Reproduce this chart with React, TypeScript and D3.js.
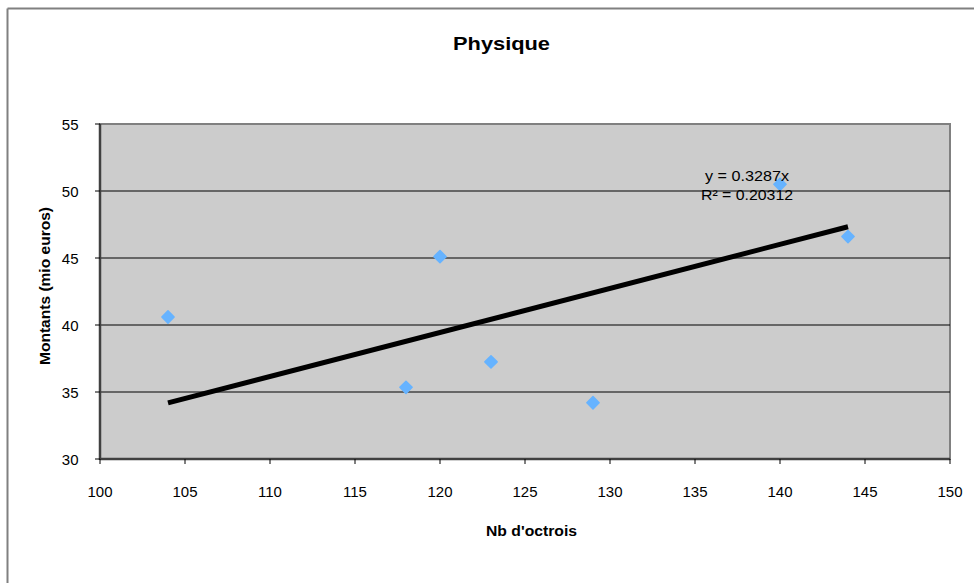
import React from "react";
import * as d3 from "d3";

const xValues = [104, 118, 120, 123, 129, 140, 144];
const yValues = [40.6, 35.35, 45.1, 37.25, 34.2, 50.5, 46.6];
const slope = 0.3287;
const xTicks = [100, 105, 110, 115, 120, 125, 130, 135, 140, 145, 150];
const yTicks = [30, 35, 40, 45, 50, 55];
const title = "Physique";
const xTitle = "Nb d'octrois";
const yTitle = "Montants (mio euros)";
const eqLabel = "y = 0.3287x";
const r2Label = "R² = 0.20312";

export default function App() {
  const W = 974, H = 583;
  const left = 100, right = 950, top = 124, bottom = 459;
  const x = d3.scaleLinear().domain([100, 150]).range([left, right]);
  const y = d3.scaleLinear().domain([30, 55]).range([bottom, top]);
  const xMin = d3.min(xValues)!, xMax = d3.max(xValues)!;
  const line = d3.line<number>().x((d) => x(d)).y((d) => y(slope * d));
  const diamond = d3.symbol().type(d3.symbolDiamond2).size(96)()!;
  const font = "Arial, 'Liberation Sans', Helvetica, sans-serif";
  return (
    <svg width={W} height={H} style={{ position: "absolute", left: 0, top: 0 }} fontFamily={font}>
      <rect x={0} y={0} width={W} height={H} fill="#fff" />
      <line x1={7.5} y1={8.5} x2={W} y2={8.5} stroke="#808080" strokeWidth={2} />
      <line x1={7.5} y1={8.5} x2={7.5} y2={H} stroke="#808080" strokeWidth={2} />
      <text x={453} y={50} fontSize={18.5} fontWeight="bold" fill="#000" textLength={97} lengthAdjust="spacingAndGlyphs">{title}</text>
      <rect x={left} y={top} width={right - left} height={bottom - top} fill="#cccccc" stroke="#808080" strokeWidth={2} />
      {yTicks.filter((t) => t !== 30 && t !== 55).map((t) => (
        <line key={t} x1={left} x2={right} y1={y(t)} y2={y(t)} stroke="#000" strokeWidth={1} />
      ))}
      <line x1={left} x2={left} y1={top} y2={bottom + 1} stroke="#404040" strokeWidth={2.5} />
      <line x1={left} x2={right} y1={bottom} y2={bottom} stroke="#404040" strokeWidth={2.5} />
      {yTicks.map((t) => (
        <g key={t}>
          <line x1={left - 5} x2={left} y1={y(t)} y2={y(t)} stroke="#000" />
          <text x={78.5} y={y(t) + 6} textAnchor="end" fontSize={15} fill="#000">{t}</text>
        </g>
      ))}
      {xTicks.map((t) => (
        <g key={t}>
          <line x1={x(t)} x2={x(t)} y1={bottom} y2={bottom + 5} stroke="#000" />
          <text x={x(t)} y={497} textAnchor="middle" fontSize={15} fill="#000">{t}</text>
        </g>
      ))}
      <text x={486} y={536} fontSize={14.5} fontWeight="bold" fill="#000" textLength={91} lengthAdjust="spacingAndGlyphs">{xTitle}</text>
      <text transform={`translate(50,365) rotate(-90)`} fontSize={14.5} fontWeight="bold" fill="#000" textLength={158} lengthAdjust="spacingAndGlyphs">{yTitle}</text>
      <path d={line([xMin, xMax])!} stroke="#000" strokeWidth={5} fill="none" />
      {xValues.map((xv, i) => (
        <path key={i} d={diamond} transform={`translate(${x(xv)},${y(yValues[i])})`} fill="#66b3ff" stroke="#66b3ff" strokeWidth={1.5} strokeLinejoin="round" />
      ))}
      <text x={705} y={181} fontSize={14.5} fill="#000" textLength={84} lengthAdjust="spacingAndGlyphs">{eqLabel}</text>
      <text x={701} y={200} fontSize={14.5} fill="#000" textLength={92} lengthAdjust="spacingAndGlyphs">{r2Label}</text>
    </svg>
  );
}
